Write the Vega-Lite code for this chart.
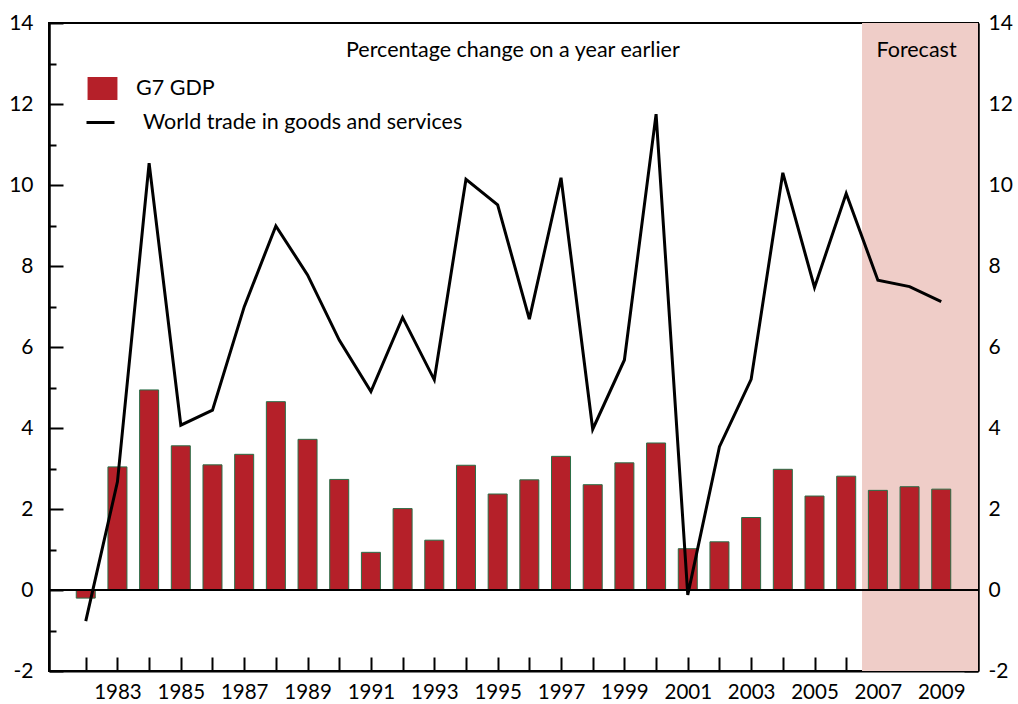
{
  "$schema": "https://vega.github.io/schema/vega-lite/v6.json",
  "autosize": "none",
  "width": 929,
  "height": 648,
  "padding": {"left": 49, "top": 23, "right": 40, "bottom": 33},
  "background": "white",
  "config": {
    "font": "Lato",
    "view": {"stroke": "black", "strokeWidth": 2},
    "axis": {"labelFont": "Lato", "labelFontSize": 21, "labelColor": "black", "domainColor": "black", "domainWidth": 2, "tickColor": "black", "tickWidth": 2, "grid": false, "title": null, "labelFlush": false, "labelOverlap": false, "zindex": 1},
    "legend": {"labelFont": "Lato", "labelFontSize": 21.5, "labelColor": "black", "labelLimit": 0}
  },
  "datasets": {
    "main": [
      {"year": 1982, "gdp": -0.2, "trade": -0.77},
      {"year": 1983, "gdp": 3.04, "trade": 2.67},
      {"year": 1984, "gdp": 4.94, "trade": 10.54},
      {"year": 1985, "gdp": 3.56, "trade": 4.07},
      {"year": 1986, "gdp": 3.09, "trade": 4.44},
      {"year": 1987, "gdp": 3.35, "trade": 6.99},
      {"year": 1988, "gdp": 4.65, "trade": 8.99},
      {"year": 1989, "gdp": 3.72, "trade": 7.78},
      {"year": 1990, "gdp": 2.73, "trade": 6.17},
      {"year": 1991, "gdp": 0.93, "trade": 4.90},
      {"year": 1992, "gdp": 2.01, "trade": 6.73},
      {"year": 1993, "gdp": 1.23, "trade": 5.19},
      {"year": 1994, "gdp": 3.08, "trade": 10.14},
      {"year": 1995, "gdp": 2.37, "trade": 9.51},
      {"year": 1996, "gdp": 2.72, "trade": 6.69},
      {"year": 1997, "gdp": 3.30, "trade": 10.18},
      {"year": 1998, "gdp": 2.60, "trade": 3.97},
      {"year": 1999, "gdp": 3.14, "trade": 5.68},
      {"year": 2000, "gdp": 3.63, "trade": 11.75},
      {"year": 2001, "gdp": 1.02, "trade": -0.12},
      {"year": 2002, "gdp": 1.19, "trade": 3.54},
      {"year": 2003, "gdp": 1.79, "trade": 5.20},
      {"year": 2004, "gdp": 2.98, "trade": 10.30},
      {"year": 2005, "gdp": 2.32, "trade": 7.47},
      {"year": 2006, "gdp": 2.81, "trade": 9.79},
      {"year": 2007, "gdp": 2.46, "trade": 7.65},
      {"year": 2008, "gdp": 2.55, "trade": 7.49},
      {"year": 2009, "gdp": 2.49, "trade": 7.12}
    ],
    "forecast": [{"start": 2006.5, "end": 2010.16, "label": "Forecast"}],
    "note": [{"t": "Percentage change on a year earlier"}]
  },
  "layer": [
    {
      "data": {"name": "forecast"},
      "mark": {"type": "rect", "color": "#efcdc8"},
      "encoding": {
        "x": {
          "field": "start", "type": "quantitative",
          "scale": {"domain": [1980.84, 2010.16], "nice": false, "zero": false, "padding": 0},
          "axis": {"orient": "bottom", "values": [1982,1983,1984,1985,1986,1987,1988,1989,1990,1991,1992,1993,1994,1995,1996,1997,1998,1999,2000,2001,2002,2003,2004,2005,2006,2007,2008,2009], "labelExpr": "datum.value % 2 == 1 ? datum.value : ''", "tickSize": -14, "labelPadding": 25, "labelFontSize": 20.5}
        },
        "x2": {"field": "end"},
        "y": {
          "datum": -2, "type": "quantitative",
          "scale": {"domain": [-2, 14], "nice": false, "zero": false, "padding": 0},
          "axis": {"orient": "right", "values": [-1,1,3,5,7,9,11,13], "tickSize": -7, "labels": false}
        },
        "y2": {"datum": 14}
      }
    },
    {
      "data": {"name": "main"},
      "mark": {"type": "bar", "size": 19, "stroke": "#2a6e47", "strokeWidth": 1},
      "encoding": {
        "x": {
          "field": "year", "type": "quantitative",
          "axis": {"orient": "bottom", "values": [1982,1983,1984,1985,1986,1987,1988,1989,1990,1991,1992,1993,1994,1995,1996,1997,1998,1999,2000,2001,2002,2003,2004,2005,2006,2007,2008,2009], "labelExpr": "datum.value % 2 == 1 ? datum.value : ''", "tickSize": -14, "labelPadding": 25, "labelFontSize": 20.5}
        },
        "y": {
          "field": "gdp", "type": "quantitative",
          "axis": {"orient": "left", "values": [-2,0,2,4,6,8,10,12,14], "labelExpr": "datum.value", "tickSize": -14, "labelPadding": 30}
        },
        "fill": {
          "datum": "G7 GDP",
          "scale": {"range": ["#b52029"]},
          "legend": {
            "orient": "none", "legendX": 42, "legendY": 54, "title": null,
            "symbolType": "M-1.3,-1H1.3V1H-1.3Z", "symbolSize": 529, "symbolStrokeWidth": 0,
            "labelOffset": 22
          }
        }
      }
    },
    {
      "data": {"name": "forecast"},
      "mark": {"type": "rule", "color": "black", "strokeWidth": 2},
      "encoding": {
        "y": {
          "datum": 0, "type": "quantitative",
          "axis": {"orient": "left", "values": [-1,1,3,5,7,9,11,13], "tickSize": -7, "labels": false}
        }
      }
    },
    {
      "data": {"name": "main"},
      "mark": {"type": "line", "strokeWidth": 3},
      "encoding": {
        "x": {
          "field": "year", "type": "quantitative",
          "axis": {"orient": "bottom", "values": [1982,1983,1984,1985,1986,1987,1988,1989,1990,1991,1992,1993,1994,1995,1996,1997,1998,1999,2000,2001,2002,2003,2004,2005,2006,2007,2008,2009], "labelExpr": "datum.value % 2 == 1 ? datum.value : ''", "tickSize": -14, "labelPadding": 25, "labelFontSize": 20.5}
        },
        "y": {
          "field": "trade", "type": "quantitative",
          "axis": {"orient": "right", "values": [-2,0,2,4,6,8,10,12,14], "labelExpr": "datum.value", "tickSize": -14, "labelPadding": 24}
        },
        "stroke": {
          "datum": "World trade in goods and services",
          "scale": {"range": ["black"]},
          "legend": {
            "orient": "none", "legendX": 36, "legendY": 84, "title": null,
            "symbolType": "stroke", "symbolSize": 784, "symbolStrokeWidth": 3,
            "labelOffset": 27, "labelLimit": 0
          }
        }
      }
    },
    {
      "data": {"name": "note"},
      "mark": {"type": "text", "fontSize": 21.5, "fill": "black", "align": "center", "baseline": "middle", "font": "Lato"},
      "encoding": {
        "x": {
          "datum": 1995.48, "type": "quantitative",
          "axis": {"orient": "bottom", "values": [1982,1983,1984,1985,1986,1987,1988,1989,1990,1991,1992,1993,1994,1995,1996,1997,1998,1999,2000,2001,2002,2003,2004,2005,2006,2007,2008,2009], "labelExpr": "datum.value % 2 == 1 ? datum.value : ''", "tickSize": -14, "labelPadding": 25, "labelFontSize": 20.5}
        },
        "y": {"datum": 13.3, "axis": null},
        "text": {"field": "t", "type": "nominal"}
      }
    },
    {
      "data": {"name": "forecast"},
      "mark": {"type": "text", "fontSize": 21.5, "fill": "black", "align": "center", "baseline": "middle", "font": "Lato"},
      "encoding": {
        "x": {
          "datum": 2008.22, "type": "quantitative",
          "axis": {"orient": "bottom", "values": [1982,1983,1984,1985,1986,1987,1988,1989,1990,1991,1992,1993,1994,1995,1996,1997,1998,1999,2000,2001,2002,2003,2004,2005,2006,2007,2008,2009], "labelExpr": "datum.value % 2 == 1 ? datum.value : ''", "tickSize": -14, "labelPadding": 25, "labelFontSize": 20.5}
        },
        "y": {"datum": 13.3, "axis": null},
        "text": {"field": "label", "type": "nominal"}
      }
    }
  ],
  "resolve": {"axis": {"y": "independent"}}
}
